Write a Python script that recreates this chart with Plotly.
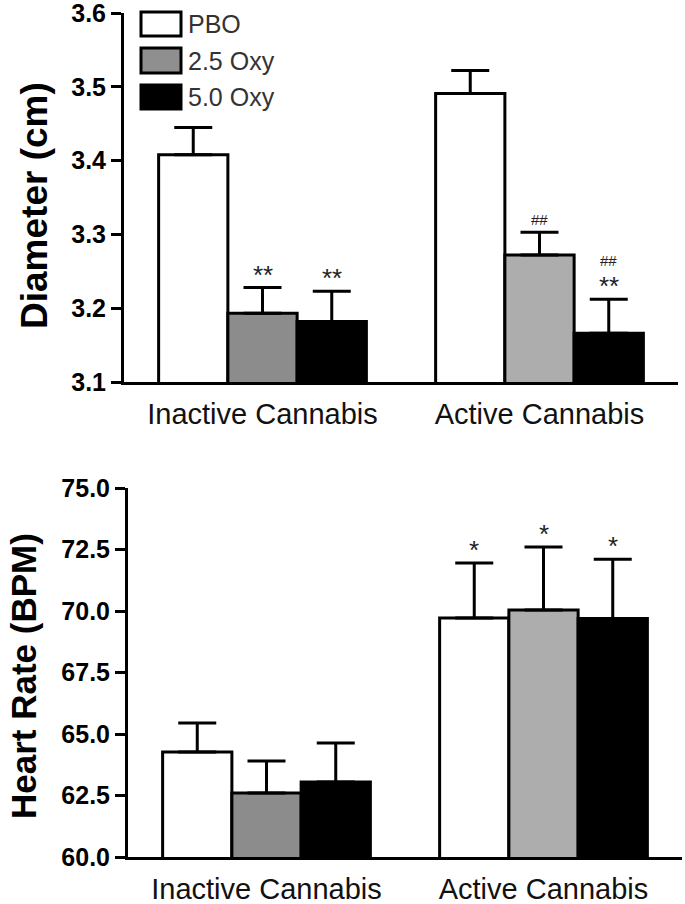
import plotly.graph_objects as go

W, H = 685, 904


def px_x(x):
    return x / W


def px_y(y):
    return 1 - y / H


groups = ["Inactive Cannabis", "Active Cannabis"]
doses = ["PBO", "2.5 Oxy", "5.0 Oxy"]

# pupil diameter (cm): mean and SEM per dose, [inactive, active]
diam_mean = [[3.408, 3.491], [3.193, 3.272], [3.182, 3.166]]
diam_sem = [[0.037, 0.031], [0.035, 0.031], [0.041, 0.046]]

# heart rate (BPM)
hr_mean = [[64.27, 69.72], [62.60, 70.04], [63.05, 69.70]]
hr_sem = [[1.18, 2.23], [1.30, 2.56], [1.58, 2.40]]

# significance marks: (group index, dose index, text)
diam_stars = [(0, 1, "**"), (0, 2, "**"), (1, 2, "**")]
diam_hash = [(1, 1, "##"), (1, 2, "##")]
hr_stars = [(1, 0, "*"), (1, 1, "*"), (1, 2, "*")]

# fill colours per dose and group
fills = [["white", "white"], ["#8c8c8c", "#adadad"], ["black", "black"]]
legend_fill = ["white", "#8f8f8f", "black"]

FONT = "Liberation Sans, Arial, sans-serif"

fig = go.Figure()

for row, (means, sems) in enumerate([(diam_mean, diam_sem), (hr_mean, hr_sem)]):
    xa = "x" if row == 0 else "x2"
    ya = "y" if row == 0 else "y2"
    for j, d in enumerate(doses):
        fig.add_trace(go.Bar(
            x=groups, y=means[j], name=d, xaxis=xa, yaxis=ya,
            marker=dict(color=fills[j], line=dict(color="black", width=3)),
            error_y=dict(type="data", array=sems[j], arrayminus=[0, 0],
                         symmetric=False, color="black", thickness=3, width=19),
            showlegend=False,
        ))

axis_common = dict(showgrid=False, zeroline=False, showline=True,
                   linecolor="black", linewidth=3, automargin=False)
xcat = dict(range=[-0.5, 1.5], ticks="", ticklabelstandoff=4,
            tickfont=dict(size=29, color="#111"))
yticks = dict(ticks="outside", ticklen=10, tickwidth=3, tickcolor="black",
              tickformat=".1f", ticklabeloverflow="allow",
              tickfont=dict(size=25, weight="bold"))

fig.update_layout(
    width=W, height=H,
    margin=dict(l=0, r=0, t=0, b=0),
    paper_bgcolor="white", plot_bgcolor="white",
    barmode="group", bargap=0.25, bargroupgap=0,
    font=dict(family=FONT, color="black"),
    xaxis=dict(domain=[px_x(124), px_x(678)], anchor="y", **xcat, **axis_common),
    yaxis=dict(domain=[px_y(382), px_y(13)], anchor="x", range=[3.1, 3.60001],
               tickvals=[3.1, 3.2, 3.3, 3.4, 3.5, 3.6], **yticks, **axis_common),
    xaxis2=dict(domain=[px_x(128), px_x(682)], anchor="y2", **xcat, **axis_common),
    yaxis2=dict(domain=[px_y(857), px_y(488)], anchor="x2", range=[60, 75.0001],
                tickvals=[60, 62.5, 65, 67.5, 70, 72.5, 75], **yticks, **axis_common),
)

ann = []
# axis titles
ann.append(dict(text="<b>Diameter (cm)</b>", textangle=-90, xref="paper", yref="paper",
                x=px_x(35), y=px_y(206), xanchor="center", yanchor="middle",
                showarrow=False, font=dict(size=37)))
ann.append(dict(text="<b>Heart Rate (BPM)</b>", textangle=-90, xref="paper", yref="paper",
                x=px_x(23), y=px_y(676), xanchor="center", yanchor="middle",
                showarrow=False, font=dict(size=35)))

offs = [-0.25, 0, 0.25]
for g, j, t in diam_stars:
    top = diam_mean[j][g] + diam_sem[j][g]
    ann.append(dict(text=t, x=g + offs[j], y=top, xref="x", yref="y", yanchor="bottom",
                    showarrow=False, yshift=-4, font=dict(size=26, color="#222")))
for g, j, t in diam_hash:
    top = diam_mean[j][g] + diam_sem[j][g]
    shift = 28 if j == 2 else 2
    ann.append(dict(text=t, x=g + offs[j], y=top, xref="x", yref="y", yanchor="bottom",
                    showarrow=False, yshift=shift, font=dict(size=15, color="#222")))
for g, j, t in hr_stars:
    top = hr_mean[j][g] + hr_sem[j][g]
    ann.append(dict(text=t, x=g + offs[j], y=top, xref="x2", yref="y2", yanchor="bottom",
                    showarrow=False, yshift=-4, font=dict(size=26, color="#222")))

# legend drawn by hand (big swatches like the original)
shapes = []
rows_y = [(12, 36), (48, 73), (85, 109)]
for k, d in enumerate(doses):
    y0, y1 = rows_y[k]
    shapes.append(dict(type="rect", xref="paper", yref="paper",
                       x0=px_x(141), x1=px_x(181), y0=px_y(y1), y1=px_y(y0),
                       fillcolor=legend_fill[k], line=dict(color="black", width=3)))
    ann.append(dict(text=d, xref="paper", yref="paper", x=px_x(186), y=px_y((y0 + y1) / 2),
                    xanchor="left", yanchor="middle", showarrow=False,
                    font=dict(size=25, color="#333")))

fig.update_layout(annotations=ann, shapes=shapes)

# drop the page's default 8px body margin so the figure fills the window
fig.write_html("out.html", config={"displayModeBar": False},
               post_script="document.body.style.margin='0';")
